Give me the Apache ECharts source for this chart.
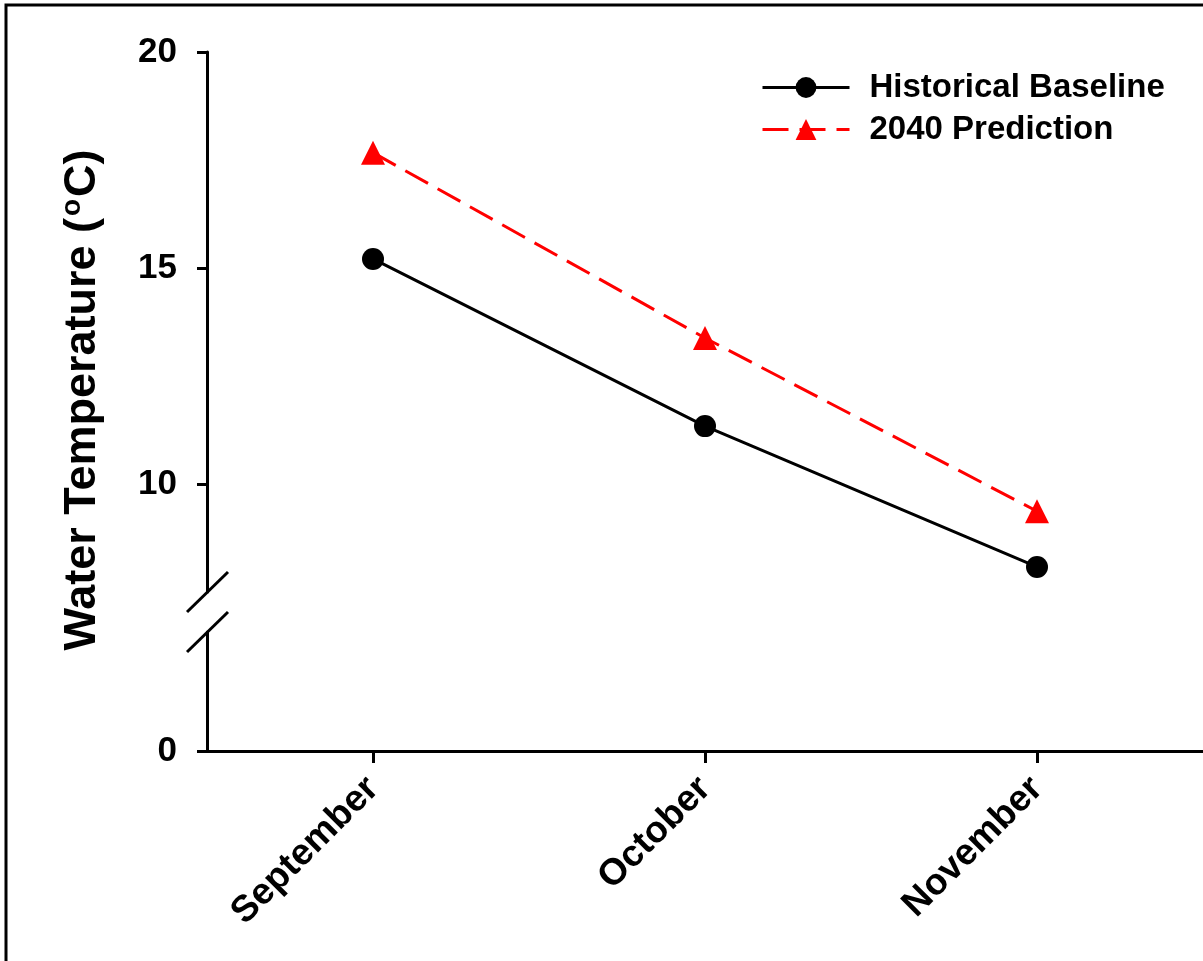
<!DOCTYPE html>
<html><head><meta charset="utf-8">
<script src="https://cdn.jsdelivr.net/npm/echarts@6/dist/echarts.min.js"></script>
<style>html,body{margin:0;padding:0;background:#fff}#c{width:1203px;height:961px}</style>
</head><body><div id="c"></div>
<script>
const categories = ['September', 'October', 'November'];
const historical = [15.21, 11.34, 8.08];
const prediction = [17.67, 13.38, 9.37];
const upperTicks = [10, 15, 20];
const lowerTicks = [0];

const FONT = 'Liberation Sans, Arial, sans-serif';
const chart = echarts.init(document.getElementById('c'), null, {renderer: 'canvas'});
const labelStyle = {fontFamily: FONT, fontWeight: 'bold', fontSize: 35, color: '#000'};

chart.setOption({
  backgroundColor: '#fff',
  animation: false,
  grid: [
    {left: 207, top: 52, width: 996, height: 540},
    {left: 207, top: 632, width: 996, height: 119}
  ],
  xAxis: [
    {gridIndex: 0, type: 'category', data: categories, boundaryGap: true, show: false},
    {gridIndex: 1, type: 'category', data: categories, boundaryGap: true,
     axisLine: {show: true, lineStyle: {color: '#000', width: 3}},
     axisTick: {show: true, alignWithLabel: true, length: 12, lineStyle: {color: '#000', width: 3}},
     axisLabel: Object.assign({}, labelStyle, {fontSize: 37, rotate: 45, margin: 32, interval: 0, padding: [24, 0, 0, 0]}),
     splitLine: {show: false}}
  ],
  yAxis: [
    {gridIndex: 0, type: 'value', min: 7.5, max: 20,
     axisLine: {show: true, lineStyle: {color: '#000', width: 3}},
     axisTick: {show: true, length: 10, lineStyle: {color: '#000', width: 3}, customValues: upperTicks},
     axisLabel: Object.assign({margin: 30, customValues: upperTicks}, labelStyle),
     splitLine: {show: false}},
    {gridIndex: 1, type: 'value', min: 0, max: 2.75,
     axisLine: {show: true, lineStyle: {color: '#000', width: 3}},
     axisTick: {show: true, length: 10, lineStyle: {color: '#000', width: 3}, customValues: lowerTicks},
     axisLabel: Object.assign({margin: 30, customValues: lowerTicks}, labelStyle),
     splitLine: {show: false}}
  ],
  legend: {
    orient: 'vertical', left: 761, top: 71, padding: 0,
    itemWidth: 87, itemHeight: 26, itemGap: 9,
    lineStyle: {width: 3},
    textStyle: {fontFamily: FONT, fontWeight: 'bold', fontSize: 33, color: '#000', lineHeight: 33, padding: [0, 0, 0, 15]},
    data: ['Historical Baseline', '2040 Prediction']
  },
  series: [
    {name: 'Historical Baseline', type: 'line', xAxisIndex: 0, yAxisIndex: 0, data: historical,
     symbol: 'circle', symbolSize: 22,
     lineStyle: {color: '#000', width: 3}, itemStyle: {color: '#000'}},
    {name: '2040 Prediction', type: 'line', xAxisIndex: 0, yAxisIndex: 0, data: prediction,
     symbol: 'triangle', symbolSize: 24,
     lineStyle: {color: '#ff0000', width: 3, type: [26, 11]}, itemStyle: {color: '#ff0000'}}
  ],
  graphic: [
    {type: 'rect', shape: {x: 6, y: 5, width: 1400, height: 1200},
     style: {fill: 'none', stroke: '#000', lineWidth: 3}, silent: true, z: 10},
    {type: 'line', shape: {x1: 187, y1: 612, x2: 228, y2: 572},
     style: {stroke: '#000', lineWidth: 3}, silent: true, z: 10},
    {type: 'line', shape: {x1: 187, y1: 652, x2: 228, y2: 612},
     style: {stroke: '#000', lineWidth: 3}, silent: true, z: 10},
    {type: 'text', x: 83, y: 400, rotation: Math.PI / 2, silent: true, z: 10,
     style: {
       text: '{a|Water Temperature (}{s|o}{a|C)}',
       align: 'center', verticalAlign: 'middle',
       rich: {
         a: {fontFamily: FONT, fontWeight: 'bold', fontSize: 45, fill: '#000', lineHeight: 50},
         s: {fontFamily: FONT, fontWeight: 'bold', fontSize: 28, fill: '#000', verticalAlign: 'top', lineHeight: 50, padding: [0, 2, 14, 2]}
       }
     }}
  ]
});
</script>
</body></html>
